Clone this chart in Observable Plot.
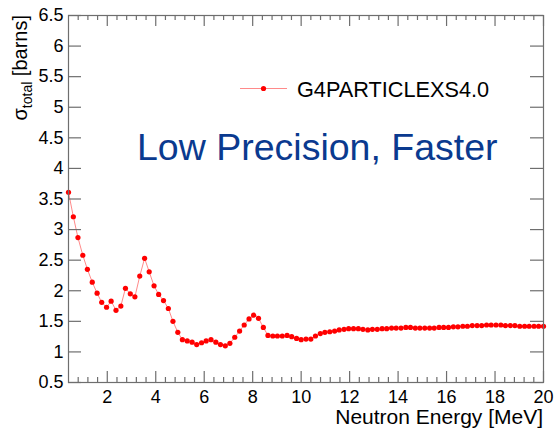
<!DOCTYPE html>
<html><head><meta charset="utf-8">
<script src="https://cdn.jsdelivr.net/npm/d3@7"></script>
<script src="https://cdn.jsdelivr.net/npm/@observablehq/plot@0.6"></script>
<style>body{margin:0;background:#fff} svg{display:block}</style>
</head><body><div id="chart"></div>
<script>
const energy = [0.40, 0.60, 0.79, 0.99, 1.18, 1.38, 1.58, 1.77, 1.97, 2.16,
  2.36, 2.56, 2.75, 2.95, 3.14, 3.34, 3.54, 3.73, 3.93, 4.12,
  4.32, 4.52, 4.71, 4.91, 5.10, 5.30, 5.50, 5.69, 5.89, 6.08,
  6.28, 6.48, 6.67, 6.87, 7.06, 7.26, 7.46, 7.65, 7.85, 8.04,
  8.24, 8.44, 8.63, 8.83, 9.02, 9.22, 9.42, 9.61, 9.81, 10.00,
  10.20, 10.40, 10.59, 10.79, 10.98, 11.18, 11.38, 11.57, 11.77, 11.96,
  12.16, 12.36, 12.55, 12.75, 12.94, 13.14, 13.34, 13.53, 13.73, 13.92,
  14.12, 14.32, 14.51, 14.71, 14.90, 15.10, 15.30, 15.49, 15.69, 15.88,
  16.08, 16.28, 16.47, 16.67, 16.86, 17.06, 17.26, 17.45, 17.65, 17.84,
  18.04, 18.24, 18.43, 18.63, 18.82, 19.02, 19.22, 19.41, 19.61, 19.80, 20.00];
const sigma = [3.61, 3.21, 2.87, 2.58, 2.35, 2.14, 1.96, 1.81, 1.73, 1.83,
  1.68, 1.75, 2.04, 1.95, 1.90, 2.24, 2.53, 2.31, 2.08, 1.94,
  1.84, 1.71, 1.50, 1.32, 1.20, 1.18, 1.16, 1.12, 1.15, 1.18,
  1.20, 1.16, 1.12, 1.10, 1.14, 1.24, 1.34, 1.44, 1.54, 1.60,
  1.55, 1.40, 1.27, 1.26, 1.26, 1.26, 1.27, 1.25, 1.22, 1.20,
  1.21, 1.21, 1.26, 1.30, 1.32, 1.33, 1.34, 1.36, 1.37, 1.38,
  1.38, 1.38, 1.37, 1.36, 1.37, 1.37, 1.38, 1.38, 1.39, 1.39,
  1.39, 1.40, 1.40, 1.39, 1.39, 1.39, 1.39, 1.39, 1.40, 1.40,
  1.40, 1.41, 1.41, 1.42, 1.42, 1.43, 1.43, 1.43, 1.44, 1.44,
  1.44, 1.44, 1.43, 1.43, 1.43, 1.42, 1.42, 1.42, 1.42, 1.42, 1.42];
const xMajorTicks = [2, 4, 6, 8, 10, 12, 14, 16, 18, 20];
const xMinorTicks = [0.8, 1.2, 1.6, 2.4, 2.8, 3.2, 3.6, 4.4, 4.8, 5.2, 5.6, 6.4, 6.8, 7.2, 7.6,
  8.4, 8.8, 9.2, 9.6, 10.4, 10.8, 11.2, 11.6, 12.4, 12.8, 13.2, 13.6, 14.4, 14.8, 15.2, 15.6,
  16.4, 16.8, 17.2, 17.6, 18.4, 18.8, 19.2, 19.6];
const yTicks = [0.5, 1, 1.5, 2, 2.5, 3, 3.5, 4, 4.5, 5, 5.5, 6, 6.5];
const seriesName = "G4PARTICLEXS4.0";
const annotation = "Low Precision, Faster";
const xTitle = "Neutron Energy [MeV]";

const W = 554, H = 429, mL = 68, mR = 11, mT = 15, mB = 47;
const fw = W - mL - mR, fh = H - mT - mB;
const axisColor = "#6e6e6e";
const font = "'Liberation Sans', Arial, Helvetica, sans-serif";

const plot = Plot.plot({
  width: W, height: H,
  marginLeft: mL, marginRight: mR, marginTop: mT, marginBottom: mB,
  x: {domain: [0.4, 20]},
  y: {domain: [0.5, 6.5]},
  style: {fontFamily: font, color: "#000", background: "#fff"},
  marks: [
    Plot.line(sigma, {x: energy, y: sigma, stroke: "#ff8a8a", strokeWidth: 1}),
    Plot.dot(sigma, {x: energy, y: sigma, r: 2.6, fill: "#ff0000", stroke: "none"}),
    Plot.frame({stroke: axisColor, strokeWidth: 1.2}),
    Plot.ruleX(xMajorTicks, {x: d => d, insetTop: fh - 11, stroke: axisColor, strokeWidth: 1.2}),
    Plot.ruleX(xMajorTicks, {x: d => d, insetBottom: fh - 11, stroke: axisColor, strokeWidth: 1.2}),
    Plot.ruleX(xMinorTicks, {x: d => d, insetTop: fh - 5, stroke: axisColor, strokeWidth: 1.2}),
    Plot.ruleX(xMinorTicks, {x: d => d, insetBottom: fh - 5, stroke: axisColor, strokeWidth: 1.2}),
    Plot.ruleY(yTicks, {y: d => d, insetRight: fw - 13, stroke: axisColor, strokeWidth: 1.2}),
    Plot.ruleY(yTicks, {y: d => d, insetLeft: fw - 13, stroke: axisColor, strokeWidth: 1.2}),
    Plot.axisX(xMajorTicks, {tickSize: 0, tickPadding: 8, fontSize: 18, label: null, tickFormat: d => String(d)}),
    Plot.axisY(yTicks, {tickSize: 0, tickPadding: 5, fontSize: 18, label: null, tickFormat: d => String(d)})
  ]
});

const svg = d3.select(plot);
// y axis title with subscript
const yl = svg.append("text")
  .attr("transform", "translate(27,15) rotate(-90)")
  .attr("text-anchor", "end")
  .style("font-family", font).style("font-size", "20px").attr("fill", "#000");
yl.append("tspan").text("σ");
yl.append("tspan").style("font-size", "14px").attr("dy", 5).text("total");
yl.append("tspan").attr("dy", -5).text(" [barns]");
// x axis title
svg.append("text").attr("x", 543).attr("y", 424).attr("text-anchor", "end")
  .style("font-family", font).style("font-size", "21px").attr("fill", "#000").text(xTitle);
// legend
svg.append("line").attr("x1", 240).attr("x2", 287).attr("y1", 88.5).attr("y2", 88.5)
  .attr("stroke", "#ff8a8a").attr("stroke-width", 1);
svg.append("circle").attr("cx", 263.5).attr("cy", 88.5).attr("r", 2.6).attr("fill", "#ff0000");
svg.append("text").attr("x", 297).attr("y", 96.5).attr("text-anchor", "start")
  .style("font-family", font).style("font-size", "21.7px").attr("fill", "#000").text(seriesName);
// annotation
svg.append("text").attr("x", 137).attr("y", 160).attr("text-anchor", "start")
  .style("font-family", font).style("font-size", "37.5px").attr("fill", "#0a3a8f").text(annotation);

document.getElementById("chart").appendChild(plot);
</script>
</body></html>
